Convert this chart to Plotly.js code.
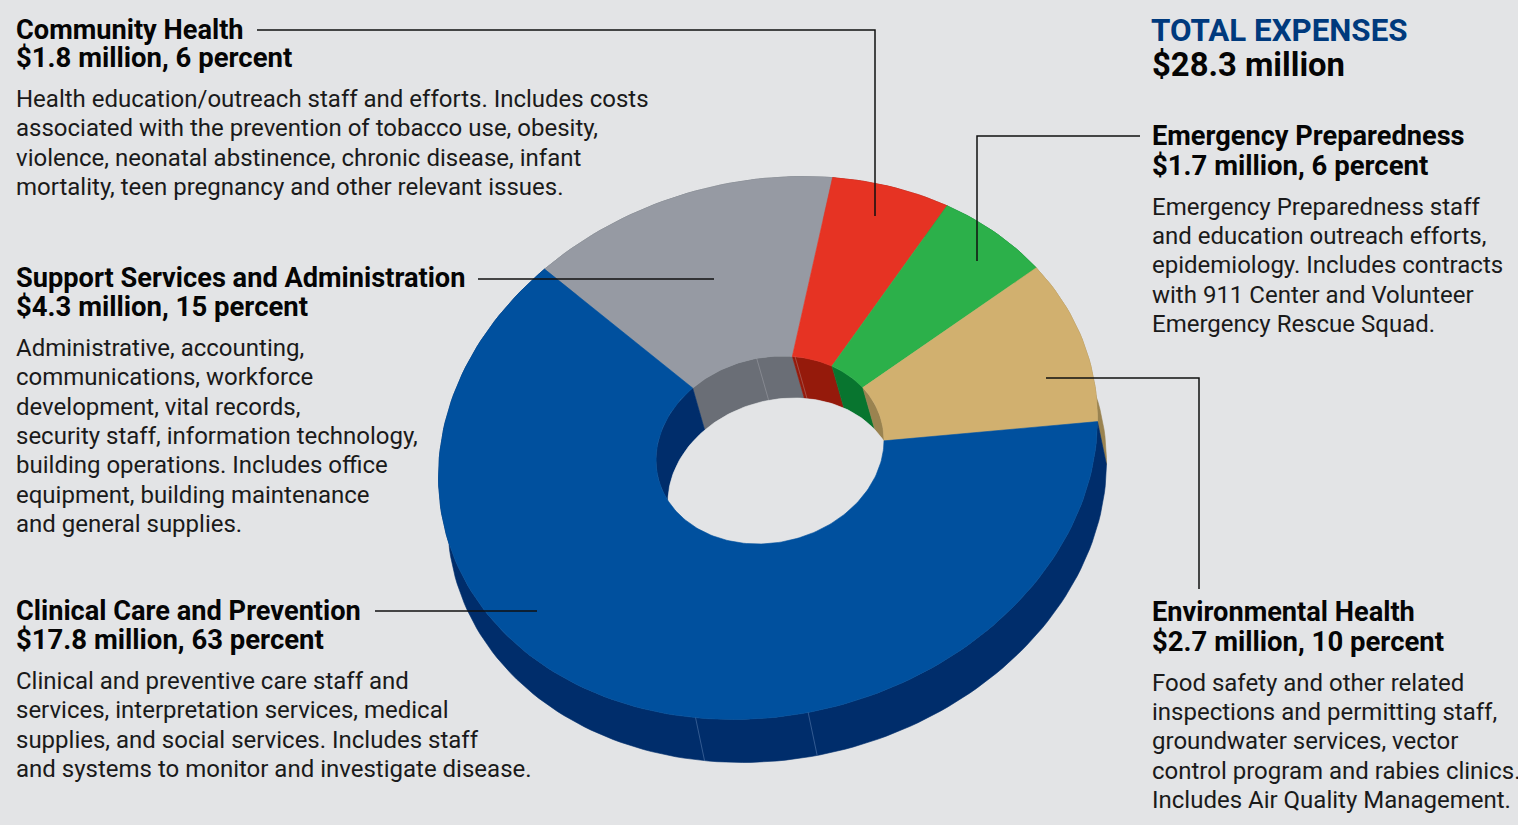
<!DOCTYPE html>
<html><head><meta charset="utf-8">
<script src="https://cdn.plot.ly/plotly-3.0.1.min.js"></script>
<style>html,body{margin:0;padding:0;background:#e3e4e6;overflow:hidden}#c{width:1518px;height:825px}</style>
</head><body><div id="c"></div>
<script>
// ---- data ----
const categories = ["Clinical Care and Prevention","Support Services and Administration","Community Health","Emergency Preparedness","Environmental Health"];
const millions   = [17.8, 4.3, 1.8, 1.7, 2.7];
const percents   = [63, 15, 6, 6, 10];
const totalMillions = 28.3;
const topColors  = ["#00509e","#969aa3","#e63323","#2cb04a","#d1b06f"];
const wallColors = ["#002d6b","#6a6e76","#951a0b","#08752f","#9a8350"];
const clinicalBody = ["Clinical and preventive care staff and","services, interpretation services, medical","supplies, and social services. Includes staff","and systems to monitor and investigate disease."];
const supportBody = ["Administrative, accounting,","communications, workforce","development, vital records,","security staff, information technology,","building operations. Includes office","equipment, building maintenance","and general supplies."];
const communityBody = ["Health education/outreach staff and efforts. Includes costs","associated with the prevention of tobacco use, obesity,","violence, neonatal abstinence, chronic disease, infant","mortality, teen pregnancy and other relevant issues."];
const emergencyBody = ["Emergency Preparedness staff","and education outreach efforts,","epidemiology. Includes contracts","with 911 Center and Volunteer","Emergency Rescue Squad."];
const environmentBody = ["Food safety and other related","inspections and permitting staff,","groundwater services, vector","control program and rabies clinics.","Includes Air Quality Management."];
const bodies = [clinicalBody, supportBody, communityBody, emergencyBody, environmentBody];

// ---- layout constants ----
const W=1518,H=825,BG="#e3e4e6";
const FONT="Roboto",NAME_SIZE=27.2,VALUE_SIZE=27.5,BODY_SIZE=24;
const outer={cx:768,cy:448,rx:329.5,ry:271.5}, hole={cx:770,cy:450,rx:114,ry:94};
const tilt=0.106, startAngle=-42.7;
const outerDrop=[9,43], holeDrop=[12,42];
const blockX=[15,15,15,1151,1151];
const headY=[[611,639.5],[278,306.5],[30,57.5],[136,165.5],[612,641.5]];
const bodyY=[[681,710,740,769],[348,377,407,436,465,495,524],[99,128,158,187],[207,236,265,295,324],[683,712,741,771,800]];

function pt(e,deg,dx=0,dy=0){
  const t=deg*Math.PI/180,ux=Math.sin(t),uy=Math.cos(t);
  const up=tilt*ux+Math.sqrt(1-tilt*tilt)*uy;
  return [e.cx+e.rx*ux+dx,e.cy-e.ry*up+dy];
}
function arc(e,a0,a1,dx=0,dy=0){
  const n=Math.max(2,Math.ceil(Math.abs(a1-a0)/1.5)),r=[];
  for(let i=0;i<=n;i++) r.push(pt(e,a0+(a1-a0)*i/n,dx,dy));
  return r;
}
function polyTrace(points,color,name){
  const p=points.concat([points[0]]);
  return {type:"scatter",mode:"lines",x:p.map(q=>q[0]),y:p.map(q=>q[1]),fill:"toself",fillcolor:color,
    line:{color:color,width:0.6},showlegend:false,name:name||"",hoverinfo:name?"name":"skip"};
}
const order=[1,2,3,4,0];
let cum=startAngle; const spans={};
order.forEach(i=>{const a=cum,b=cum+percents[i]*3.6;spans[i]=[a,b];cum=b;});

const traces=[];
order.forEach(i=>{const [a,b]=spans[i];
  traces.push(polyTrace(arc(outer,a,b).concat(arc(outer,b,a,...outerDrop)),wallColors[i]));});
order.forEach(i=>{const [a,b]=spans[i];
  traces.push(polyTrace(arc(hole,a,b).concat(arc(hole,b,a,...holeDrop)),wallColors[i]));});
traces.push(polyTrace(arc(hole,0,360,...holeDrop),BG));
order.forEach(i=>{const [a,b]=spans[i];
  traces.push(polyTrace(arc(outer,a,b).concat(arc(hole,b,a)),topColors[i],categories[i]));});
const outerSeams=[192.7,173], holeSeams=[-6.7,12.7];
function seam(e,deg,drop,color){
  const p=pt(e,deg),q=pt(e,deg,...drop);
  return {type:"scatter",mode:"lines",x:[p[0],q[0]],y:[p[1],q[1]],line:{color:color,width:1},showlegend:false,hoverinfo:"skip"};
}
outerSeams.forEach(d=>traces.push(seam(outer,d,outerDrop,"rgba(110,145,190,0.45)")));
holeSeams.forEach(d=>traces.push(seam(hole,d,holeDrop,"rgba(200,200,205,0.3)")));

// ---- text ----
const ann=[];
function label(x,y,text,size,color,bold){
  ann.push({x:x,y:y,xref:"x",yref:"y",xanchor:"left",yanchor:"middle",showarrow:false,align:"left",borderpad:0,
    text:bold?"<b>"+text+"</b>":text,font:{family:FONT,size:size,color:color}});
}
categories.forEach((c,i)=>{
  label(blockX[i],headY[i][0],c,NAME_SIZE,"#050505",true);
  label(blockX[i],headY[i][1],"$"+millions[i].toFixed(1)+" million, "+percents[i]+" percent",VALUE_SIZE,"#050505",true);
  bodies[i].forEach((ln,j)=>label(blockX[i],bodyY[i][j],ln,BODY_SIZE,"#1a1a1a",false));
});
label(1150,30,"TOTAL EXPENSES",31.3,"#003a7d",true);
label(1151,65,"$"+totalMillions.toFixed(1)+" million",32.8,"#050505",true);

// ---- leader lines ----
const leaders=["M257,30 H875 V216","M1140,136 H977 V261","M1046,378 H1199 V589","M478,279 H714","M375,611 H537"];
const shapes=leaders.map(p=>({type:"path",xref:"x",yref:"y",path:p,line:{color:"#111",width:1.5},layer:"above"}));

Plotly.newPlot("c",traces,{
  width:W,height:H,margin:{l:0,r:0,t:0,b:0},paper_bgcolor:BG,plot_bgcolor:BG,showlegend:false,
  xaxis:{range:[0,W],visible:false,fixedrange:true},yaxis:{range:[H,0],visible:false,fixedrange:true},
  annotations:ann,shapes:shapes,hovermode:"closest"
},{displayModeBar:false,responsive:false});
</script></body></html>
